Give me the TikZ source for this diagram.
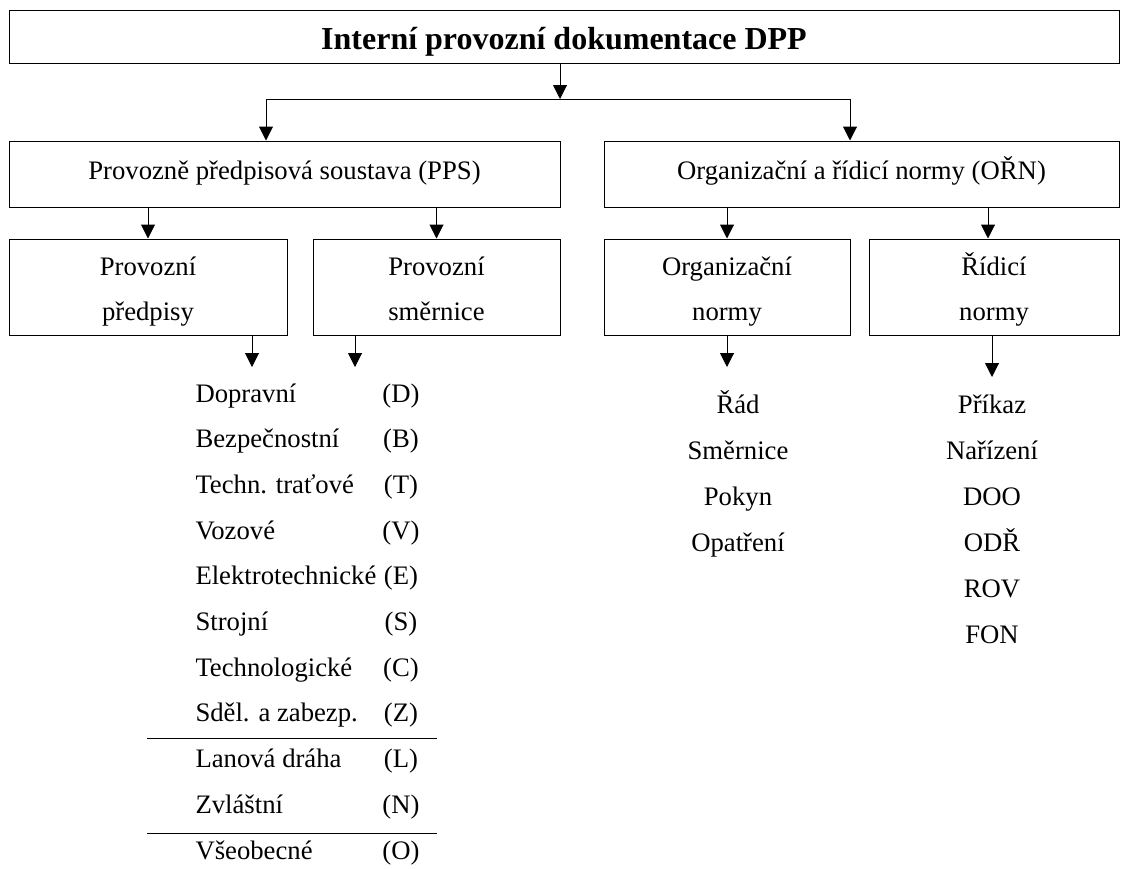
\documentclass[tikz,border=0pt]{standalone}
\usepackage{fontspec}
\setmainfont{Liberation Serif}
\usetikzlibrary{arrows.meta,positioning}
\newcommand\topstrut{\rule{0pt}{35pt}}
\tikzset{arr/.style={-{Triangle[width=14pt,length=14pt]}}, % filled arrow heads
box/.style={draw, rectangle, inner sep=0pt, align=center, font=\fontsize{26.7}{45}\selectfont},
item/.style={inner sep=0pt, font=\fontsize{26.7}{32}\selectfont},
}

\begin{document}
\begin{tikzpicture}[x=1pt, y=-1pt, line width=1pt]
\useasboundingbox (0,0) rectangle (1121,868);
\node[box, minimum width=1110pt, minimum height=53pt, text height=25pt, text depth=0pt, font=\fontsize{32}{38}\selectfont\bfseries] (title) at (564,36.5) {Interní provozní dokumentace DPP};
\node[box, minimum width=551pt, minimum height=66pt, text height=21pt, text depth=11pt] (pps) at (284.5,174) {Provozně předpisová soustava (PPS)};
\node[box, minimum width=515pt, minimum height=66pt, text height=21pt, text depth=11pt] (orn) at (861.5,174) {Organizační a řídicí normy (OŘN)};
\node[box, minimum width=278pt, minimum height=96pt] (pp) at (148,287) {\topstrut Provozní\\\strut předpisy};
\node[box, minimum width=247pt, minimum height=96pt] (ps) at (436.5,287) {\topstrut Provozní\\\strut směrnice};
\node[box, minimum width=246pt, minimum height=96pt] (on) at (727,287) {\topstrut Organizační\\\strut normy};
\node[box, minimum width=250pt, minimum height=96pt] (rn) at (994,287) {\topstrut Řídicí\\\strut normy};
% branching below the title
\coordinate (split) at (560,99);
\coordinate (splitL) at (266,99);
\coordinate (splitR) at (850,99);
\draw[arr] (title.south -| split) -- (split);
\draw (splitL) -- (splitR);
\draw[arr] (splitL) -- (pps.north -| splitL);
\draw[arr] (splitR) -- (orn.north -| splitR);
\draw[arr] (pps.south -| pp.north) -- (pp.north);
\draw[arr] (pps.south -| ps.north) -- (ps.north);
\draw[arr] (orn.south -| on.north) -- (on.north);
\draw[arr] (orn.south -| 988,0) -- (rn.north -| 988,0);
% free ends of the lower arrows
\coordinate (ppEnd) at (252,367);
\coordinate (psEnd) at (355,367);
\coordinate (onEnd) at (727,367);
\coordinate (rnEnd) at (992,377);
\draw[arr] (pp.south -| ppEnd) -- (ppEnd);
\draw[arr] (ps.south -| psEnd) -- (psEnd);
\draw[arr] (on.south -| onEnd) -- (onEnd);
\draw[arr] (rn.south -| rnEnd) -- (rnEnd);
% list of the regulations
\foreach \name/\code [count=\i] in {Dopravní/D, Bezpečnostní/B, Techn. traťové/T, Vozové/V, Elektrotechnické/E, Strojní/S, Technologické/C, Sděl. a zabezp./Z, Lanová dráha/L, Zvláštní/N, Všeobecné/O}
{
\node[item, anchor=base west] (pd\i) at (195,{402+(\i-1)*45.7}) {\name};
\node[item, anchor=base] (pc\i) at (401,{402+(\i-1)*45.7}) {(\code)};
}
\draw (147,738) -- (437,738);
\draw (147,833) -- (437,833);
\foreach \name [count=\i] in {Řád, Směrnice, Pokyn, Opatření}
\node[item, anchor=base] (o\i) at (738,{413+(\i-1)*46}) {\name};
\foreach \name [count=\i] in {Příkaz, Nařízení, DOO, ODŘ, ROV, FON}
\node[item, anchor=base] (r\i) at (992,{413+(\i-1)*46}) {\name};
\end{tikzpicture}
\end{document}
